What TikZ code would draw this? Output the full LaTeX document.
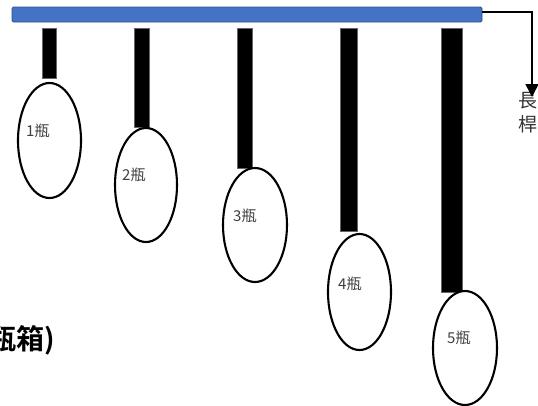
\documentclass[tikz,border=0pt]{standalone}
\usepackage{fontspec}
\newfontfamily\cjk{Noto Sans CJK TC}
\newfontfamily\cjkbold{Noto Sans CJK TC Bold}
\usetikzlibrary{arrows.meta}
\tikzset{
  rod/.style={fill=black, draw=black!60, line width=0.3pt},
  bottle/.style={draw=black, line width=2.1pt, fill=white},
  blabel/.style={font=\cjk\fontsize{15}{17}\selectfont, text=black!75, inner sep=0pt, anchor=west},
}
\begin{document}
\begin{tikzpicture}[x=1pt,y=-1pt]
\useasboundingbox (0,0) rectangle (538,405);
% hanging bar
\draw[fill={rgb,255:red,68;green,114;blue,196}, draw={rgb,255:red,47;green,82;blue,143}, line width=0.8pt, rounded corners=1.5pt]
  (12,7) rectangle (482,22);
\coordinate (barend) at (482,12);
% rods
\path[rod] (42,28) rectangle (56,78);
\path[rod] (134,28) rectangle (149,127);
\path[rod] (237,28) rectangle (252,168);
\path[rod] (340,28) rectangle (357,231);
\path[rod] (441,28) rectangle (462,292);
% bottles
\draw[bottle] (49.5,140.5) ellipse [x radius=31.5, y radius=57.5];
\draw[bottle] (146,185) ellipse [x radius=31, y radius=57];
\draw[bottle] (255,225) ellipse [x radius=32, y radius=57];
\draw[bottle] (359.5,292) ellipse [x radius=31.5, y radius=58];
\draw[bottle] (465,348) ellipse [x radius=32, y radius=57];
\node[blabel] (l1) at (26,131) {1瓶};
\node[blabel] (l2) at (122,175) {2瓶};
\node[blabel] (l3) at (233,216) {3瓶};
\node[blabel] (l4) at (338,284) {4瓶};
\node[blabel] (l5) at (447,338) {5瓶};
% pole label and arrow
\coordinate (tip) at (532,97);
\node[font=\cjk\fontsize{19}{24}\selectfont, text=black!80, align=center, inner sep=0pt, anchor=north] (pole) at (528,92) {長\\桿};
\draw[line width=1.6pt, -{Triangle[length=13pt,width=13pt]}] (barend) -| (tip);
% caption fragment
\node[font=\cjkbold\fontsize{28}{32}\selectfont, text=black, inner sep=0pt, anchor=east] (cap) at (55,340) {瓶箱)};
\end{tikzpicture}
\end{document}
